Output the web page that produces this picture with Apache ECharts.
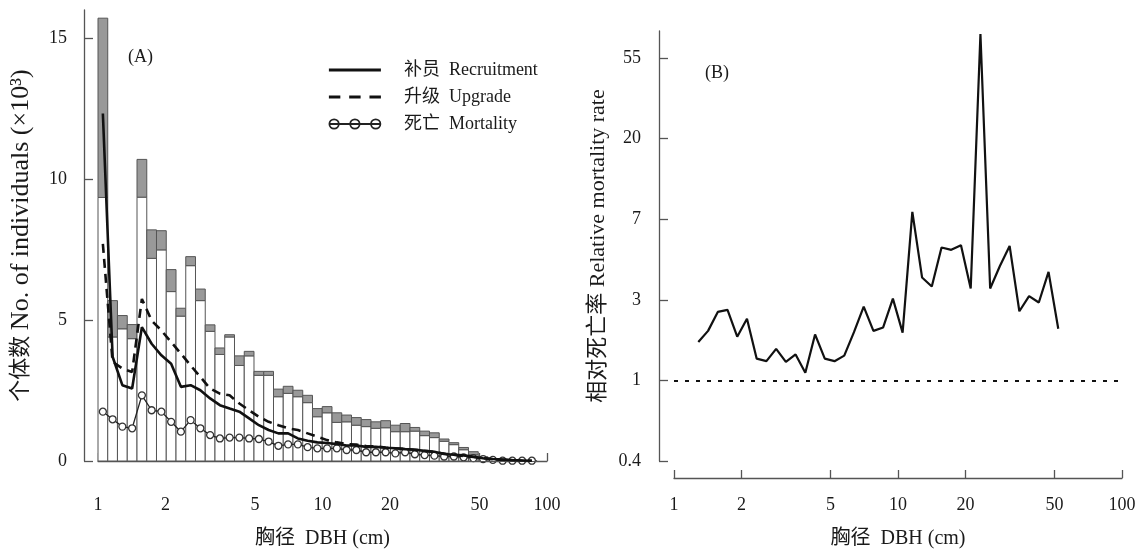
<!DOCTYPE html>
<html><head><meta charset="utf-8">
<script src="https://cdn.jsdelivr.net/npm/echarts@6/dist/echarts.min.js"></script>
<style>html,body{margin:0;padding:0;background:#fff}#c{width:1142px;height:554px}</style>
</head><body><div id="c"></div>
<script>
// DBH class edges (cm), 45 classes of 0.1 in ln(DBH)
const dbhEdges = [1.000, 1.105, 1.221, 1.350, 1.492, 1.649, 1.822, 2.014, 2.226, 2.460, 2.718, 3.004, 3.320, 3.669, 4.055, 4.482, 4.953, 5.474, 6.050, 6.686, 7.389, 8.166, 9.025, 9.974, 11.023, 12.182, 13.464, 14.880, 16.445, 18.174, 20.086, 22.198, 24.533, 27.113, 29.964, 33.115, 36.598, 40.447, 44.701, 49.402, 54.598, 60.340, 66.686, 73.700, 81.451, 90.017];
// Panel A bars (x10^3 individuals): white part and grey part
const whiteCount = [9.35, 4.40, 4.69, 4.34, 9.36, 7.19, 7.49, 6.01, 5.14, 6.93, 5.69, 4.60, 3.78, 4.40, 3.39, 3.73, 3.04, 3.04, 2.28, 2.40, 2.28, 2.07, 1.57, 1.71, 1.37, 1.39, 1.27, 1.22, 1.16, 1.18, 1.04, 1.04, 1.06, 0.90, 0.83, 0.70, 0.58, 0.40, 0.22, 0.12, 0.06, 0.04, 0.02, 0.015, 0.008];
const greyCount = [6.36, 1.29, 0.47, 0.50, 1.34, 1.01, 0.68, 0.78, 0.28, 0.32, 0.41, 0.23, 0.23, 0.08, 0.34, 0.16, 0.14, 0.14, 0.27, 0.25, 0.23, 0.26, 0.29, 0.22, 0.34, 0.24, 0.27, 0.25, 0.23, 0.25, 0.23, 0.29, 0.13, 0.16, 0.17, 0.08, 0.07, 0.08, 0.11, 0.03, 0.02, 0.01, 0.01, 0.005, 0.002];
// Panel A lines (x10^3)
const recruitment = [12.33, 3.70, 2.69, 2.57, 4.75, 4.16, 3.75, 3.45, 2.63, 2.69, 2.51, 2.22, 1.98, 1.86, 1.75, 1.51, 1.27, 1.10, 0.98, 0.98, 0.80, 0.72, 0.66, 0.64, 0.60, 0.55, 0.55, 0.50, 0.50, 0.47, 0.45, 0.42, 0.40, 0.36, 0.33, 0.25, 0.22, 0.20, 0.15, 0.10, 0.07, 0.05, 0.03, 0.02, 0.01];
const upgrade = [7.70, 3.52, 3.28, 3.16, 5.75, 4.98, 4.63, 4.22, 3.81, 3.39, 2.98, 2.57, 2.39, 2.33, 2.04, 1.80, 1.57, 1.39, 1.27, 1.16, 1.10, 0.98, 0.86, 0.74, 0.66, 0.60, 0.58, 0.53, 0.52, 0.48, 0.45, 0.43, 0.40, 0.36, 0.32, 0.26, 0.22, 0.18, 0.14, 0.10, 0.06, 0.04, 0.02, 0.01, 0.01];
const mortality = [1.75, 1.48, 1.22, 1.16, 2.33, 1.80, 1.75, 1.39, 1.04, 1.45, 1.16, 0.92, 0.80, 0.83, 0.83, 0.80, 0.78, 0.69, 0.54, 0.59, 0.59, 0.49, 0.45, 0.45, 0.45, 0.39, 0.39, 0.31, 0.31, 0.31, 0.27, 0.31, 0.24, 0.21, 0.19, 0.16, 0.16, 0.13, 0.10, 0.07, 0.04, 0.01, 0.01, 0.01, 0.01];
// Panel B relative mortality rate (null where not shown)
const relMortality = [null, null, 1.61, 1.85, 2.34, 2.40, 1.72, 2.15, 1.31, 1.27, 1.48, 1.26, 1.38, 1.10, 1.77, 1.31, 1.27, 1.36, 1.82, 2.50, 1.85, 1.93, 2.76, 1.81, 8.11, 3.59, 3.21, 5.21, 5.06, 5.36, 3.13, 73.7, 3.13, 4.14, 5.31, 2.36, 2.85, 2.63, 3.85, 1.90, null, null, null, null, null];
// Tick values / labels
const xTicks = [1, 2, 5, 10, 20, 50, 100];
const yTicksA = [0, 5, 10, 15];
const yTicksB = [Math.exp(-1), 1, Math.E, Math.exp(2), Math.exp(3), Math.exp(4)];
const yTickLabelsB = ['0.4', '1', '3', '7', '20', '55'];

const FONT = "'Liberation Serif', 'Times New Roman', 'Noto Sans CJK SC', serif";
const TXT = '#1a1a1a';
const AX = '#555';

const mids = dbhEdges.slice(0, -1).map((e, i) => Math.sqrt(e * dbhEdges[i + 1]));
const barData = whiteCount.map((w, i) => [dbhEdges[i], dbhEdges[i + 1], w, greyCount[i]]);
const pts = arr => arr.map((v, i) => [mids[i], v]).filter(p => p[1] != null);

function xAxisCfg(idx) {
  return {
    type: 'log', logBase: 10, gridIndex: idx, min: 1, max: 100, offset: 17,
    name: '胸径  DBH (cm)', nameLocation: 'middle', nameGap: 51,
    nameTextStyle: {fontFamily: FONT, fontSize: 20, color: TXT},
    axisLine: {show: true, lineStyle: {color: AX, width: 1.3}},
    axisTick: {show: true, inside: true, length: 8, lineStyle: {color: AX, width: 1.3}, customValues: xTicks},
    axisLabel: {fontFamily: FONT, fontSize: 18, color: TXT, margin: 18, customValues: xTicks},
    splitLine: {show: false}, minorTick: {show: false}
  };
}

const option = {
  animation: false,
  backgroundColor: '#fff',
  title: [
    {text: '(A)', left: 128, top: 48, padding: 0, textStyle: {fontFamily: FONT, fontSize: 18, fontWeight: 'normal', color: TXT}},
    {text: '(B)', left: 705, top: 64, padding: 0, textStyle: {fontFamily: FONT, fontSize: 18, fontWeight: 'normal', color: TXT}}
  ],
  legend: {
    left: 328, top: 61, orient: 'vertical', padding: 0, itemWidth: 52, itemHeight: 14, itemGap: 9,
    selectedMode: false,
    textStyle: {fontFamily: FONT, fontSize: 18, color: TXT, padding: [0, 0, 0, 18]},
    data: [
      {name: '补员  Recruitment', icon: 'path://M0,5.6h50v2.8h-50z', itemStyle: {color: '#111', borderWidth: 0}},
      {name: '升级  Upgrade', icon: 'path://M0,5.6h11v2.8h-11zM19.5,5.6h11v2.8h-11zM39,5.6h11v2.8h-11z', itemStyle: {color: '#111', borderWidth: 0}},
      {name: '死亡  Mortality', icon: 'path://M0,7L50,7M0.5,7a4.5,4.5 0 1,0 9,0a4.5,4.5 0 1,0 -9,0ZM20.5,7a4.5,4.5 0 1,0 9,0a4.5,4.5 0 1,0 -9,0ZM40.5,7a4.5,4.5 0 1,0 9,0a4.5,4.5 0 1,0 -9,0Z',
       itemStyle: {color: '#fff', borderColor: '#222', borderWidth: 1.8}}
    ]
  },
  grid: [
    {left: 98, top: 10, width: 449, height: 452.7},
    {left: 674, top: 31, width: 448, height: 431.7}
  ],
  xAxis: [xAxisCfg(0), xAxisCfg(1)],
  yAxis: [
    {
      type: 'value', gridIndex: 0, min: 0, max: 16, offset: 14,
      name: '{c|个体数} {l|No. of individuals (×10³)}', nameLocation: 'middle', nameRotate: 90, nameGap: 50,
      nameTextStyle: {fontFamily: FONT, fontSize: 22, color: TXT,
        rich: {c: {fontFamily: FONT, fontSize: 22, color: TXT}, l: {fontFamily: FONT, fontSize: 26, color: TXT}}},
      axisLine: {show: true, lineStyle: {color: AX, width: 1.3}},
      axisTick: {show: true, inside: true, length: 9, lineStyle: {color: AX, width: 1.3}, customValues: yTicksA},
      axisLabel: {fontFamily: FONT, fontSize: 18, color: TXT, margin: 17, customValues: yTicksA},
      splitLine: {show: false}
    },
    {
      type: 'log', logBase: Math.E, gridIndex: 1, min: Math.exp(-1), max: 76.5, offset: 15,
      name: '相对死亡率 Relative mortality rate', nameLocation: 'middle', nameRotate: 90, nameGap: 50,
      nameTextStyle: {fontFamily: FONT, fontSize: 22, color: TXT},
      axisLine: {show: true, lineStyle: {color: AX, width: 1.3}},
      axisTick: {show: true, inside: true, length: 9, lineStyle: {color: AX, width: 1.3}, customValues: yTicksB},
      axisLabel: {fontFamily: FONT, fontSize: 18, color: TXT, margin: 18, customValues: yTicksB,
        formatter: v => {
          let best = 0;
          yTicksB.forEach((t, i) => { if (Math.abs(Math.log(t) - Math.log(v)) < Math.abs(Math.log(yTicksB[best]) - Math.log(v))) best = i; });
          return yTickLabelsB[best];
        }},
      splitLine: {show: false}, minorTick: {show: false}
    }
  ],
  series: [
    {
      type: 'custom', name: 'bars', xAxisIndex: 0, yAxisIndex: 0,
      data: barData, encode: {x: [0, 1], y: [2]},
      renderItem: (params, api) => {
        const lo = api.value(0), hi = api.value(1), w = api.value(2), g = api.value(3);
        const p0 = api.coord([lo, 0]);
        const p1 = api.coord([hi, w]);
        const p2 = api.coord([hi, w + g]);
        return {type: 'group', children: [
          {type: 'rect', shape: {x: p0[0], y: p1[1], width: p1[0] - p0[0], height: p0[1] - p1[1]},
           style: {fill: '#fff', stroke: '#555', lineWidth: 1}},
          {type: 'rect', shape: {x: p0[0], y: p2[1], width: p1[0] - p0[0], height: p1[1] - p2[1]},
           style: {fill: '#999', stroke: '#555', lineWidth: 1}}
        ]};
      },
      markLine: {silent: true, symbol: 'none', label: {show: false},
        lineStyle: {color: AX, width: 1.2, type: 'solid'}, data: [{yAxis: 0}]},
      z: 1
    },
    {
      type: 'line', name: '死亡  Mortality', xAxisIndex: 0, yAxisIndex: 0, data: pts(mortality),
      symbol: 'circle', symbolSize: 7, showAllSymbol: true,
      itemStyle: {color: '#fff', borderColor: '#333', borderWidth: 1.3},
      lineStyle: {color: '#222', width: 1.3}, z: 3
    },
    {
      type: 'line', name: '升级  Upgrade', xAxisIndex: 0, yAxisIndex: 0, data: pts(upgrade),
      symbol: 'none', itemStyle: {color: '#111'},
      lineStyle: {color: '#111', width: 2.6, type: [9, 6]}, z: 4
    },
    {
      type: 'line', name: '补员  Recruitment', xAxisIndex: 0, yAxisIndex: 0, data: pts(recruitment),
      symbol: 'none', itemStyle: {color: '#111'},
      lineStyle: {color: '#111', width: 2.6}, z: 5
    },
    {
      type: 'line', name: 'rate', xAxisIndex: 1, yAxisIndex: 1, data: pts(relMortality),
      symbol: 'none', lineStyle: {color: '#111', width: 2.2},
      markLine: {silent: true, symbol: 'none', label: {show: false},
        lineStyle: {color: '#111', width: 2, type: [4, 7]}, data: [{yAxis: 1}]}
    }
  ]
};
const chart = echarts.init(document.getElementById('c'), null, {renderer: 'canvas'});
chart.setOption(option);
</script></body></html>
